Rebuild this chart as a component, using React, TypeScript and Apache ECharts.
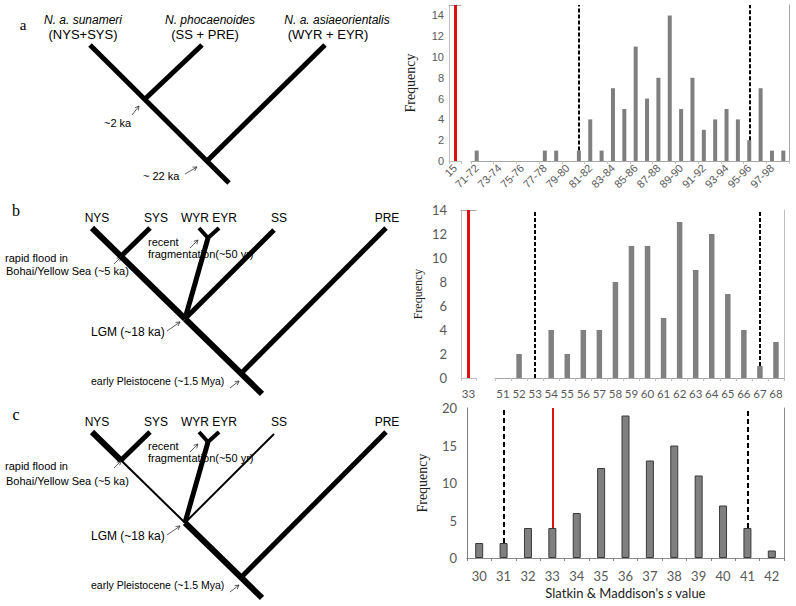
import React, { useEffect, useRef } from "react";
import * as echarts from "echarts";

// ---------- data ----------
const obsA = ["15"];
const catsA = [
  "71-72", "72-73", "73-74", "74-75", "75-76", "76-77", "77-78", "78-79", "79-80", "80-81",
  "81-82", "82-83", "83-84", "84-85", "85-86", "86-87", "87-88", "88-89", "89-90", "90-91",
  "91-92", "92-93", "93-94", "94-95", "95-96", "96-97", "97-98", "98-99",
];
const valsA = [1, 0, 0, 0, 0, 0, 1, 1, 0, 1, 4, 1, 7, 5, 11, 6, 8, 14, 5, 8, 3, 4, 5, 4, 2, 7, 1, 1];
const critA = ["80-81", "95-96"];
const yMaxA = 15;

const obsB = ["33"];
const catsB = ["51", "52", "53", "54", "55", "56", "57", "58", "59", "60", "61", "62", "63", "64", "65", "66", "67", "68"];
const valsB = [0, 2, 0, 4, 2, 4, 4, 8, 11, 11, 5, 13, 9, 12, 7, 4, 1, 3];
const critB = ["53", "67"];
const yMaxB = 14;

const catsC = ["30", "31", "32", "33", "34", "35", "36", "37", "38", "39", "40", "41", "42"];
const valsC = [2, 2, 4, 4, 6, 12, 19, 13, 15, 11, 7, 4, 1];
const critC = ["31", "41"];
const obsC = "33";
const yMaxC = 20;

// ---------- styles ----------
const SANS = "Liberation Sans, Arial, sans-serif";
const CAL = "Lato, Liberation Sans, sans-serif";
const SERIF = "Liberation Serif, Times New Roman, serif";
const GREY_TXT = "#595959";

function arrow(x1: number, y1: number, x2: number, y2: number) {
  const a = Math.atan2(y2 - y1, x2 - x1);
  const L = 4.5;
  const p1 = [x2 - L * Math.cos(a - 0.5), y2 - L * Math.sin(a - 0.5)];
  const p2 = [x2 - L * Math.cos(a + 0.5), y2 - L * Math.sin(a + 0.5)];
  return [
    { type: "line", silent: true, shape: { x1, y1, x2, y2 }, style: { stroke: "#333", lineWidth: 0.8 } },
    { type: "polyline", silent: true, shape: { points: [p1, [x2, y2], p2] }, style: { stroke: "#333", lineWidth: 0.8, fill: null } },
  ];
}
function seg(x1: number, y1: number, x2: number, y2: number, w: number) {
  return { type: "line", silent: true, z: 10, shape: { x1, y1, x2, y2 }, style: { stroke: "#000", lineWidth: w, lineCap: "butt" } };
}
function txt(x: number, y: number, text: string, size: number, opts: any = {}) {
  return {
    type: "text", silent: true, z: 5, x, y,
    style: { text, fontSize: size, fontFamily: SANS, fill: "#000", align: "left", verticalAlign: "middle", ...opts },
  };
}

function treeGraphics() {
  const g: any[] = [];
  // panel a
  g.push(txt(23, 25, "a", 15, { fontFamily: SERIF, align: "center" }));
  g.push(txt(83, 20, "N. a. sunameri", 12, { fontStyle: "italic", align: "center" }));
  g.push(txt(83, 34, "(NYS+SYS)", 13, { align: "center" }));
  g.push(txt(210, 20, "N. phocaenoides", 12, { fontStyle: "italic", align: "center" }));
  g.push(txt(205, 34, "(SS + PRE)", 13, { align: "center" }));
  g.push(txt(337, 20, "N. a. asiaeorientalis", 12, { fontStyle: "italic", align: "center" }));
  g.push(txt(328, 34, "(WYR + EYR)", 13, { align: "center" }));
  g.push(txt(104, 123, "~2 ka", 11));
  g.push(txt(143, 176, "~ 22 ka", 11));
  g.push(...arrow(132, 115, 139, 106));
  g.push(...arrow(185, 174, 197, 167));
  g.push(seg(90, 45, 229, 183, 5));
  g.push(seg(145, 99, 202, 45, 5));
  g.push(seg(207, 161, 325, 45, 5));

  // panel b & c share the topology
  const tree = (dy: number, thinParts: boolean, label: string) => {
    const y0 = 228 + dy;
    g.push(txt(16, 210 + dy, label, 16, { fontFamily: SERIF, align: "center" }));
    g.push(txt(97, 218 + dy, "NYS", 12, { align: "center" }));
    g.push(txt(156, 218 + dy, "SYS", 12, { align: "center" }));
    g.push(txt(209, 218 + dy, "WYR EYR", 12, { align: "center" }));
    g.push(txt(279, 218 + dy, "SS", 12, { align: "center" }));
    g.push(txt(387, 218 + dy, "PRE", 12, { align: "center" }));
    g.push(txt(5, 258 + dy * 1.02, "rapid flood in", 11));
    g.push(txt(6, 271 + dy * 1.03, "Bohai/Yellow Sea (~5 ka)", 11));
    g.push(txt(148, 242 + dy, "recent", 11));
    g.push(txt(148, 254 + dy, "fragmentation(~50 yr)", 11));
    g.push(txt(91, 332 + dy, "LGM (~18 ka)", 12));
    g.push(txt(91, 381 + dy, "early Pleistocene (~1.5 Mya)", 10.5));
    g.push(...arrow(114, 264 + dy, 121, 257 + dy));
    g.push(...arrow(190, 248 + dy, 198, 240 + dy));
    g.push(...arrow(167, 331 + dy, 180, 322 + dy));
    g.push(...arrow(230, 388 + dy, 239, 381 + dy));
    const k = 0.976;
    const yAt = (x: number) => y0 + (x - 92) * k;
    const thin = thinParts ? 2 : 6;
    const thinSS = thinParts ? 2 : 5;
    g.push(seg(92, y0, 121, yAt(121), 6));
    g.push(seg(121, yAt(121), 185, yAt(185), thin));
    g.push(seg(185, yAt(185), 262, yAt(262), 6));
    g.push(seg(121, yAt(121), 150, y0, 5));
    g.push(seg(185, yAt(185), 208, y0 + 10, 5));
    g.push(seg(208, y0 + 10, 199, y0, 4));
    g.push(seg(208, y0 + 10, 219, y0, 4));
    g.push(seg(185, yAt(185), 274, y0 + 2, thinSS));
    g.push(seg(241, yAt(241), 386, y0, 5));
  };
  tree(0, false, "b");
  tree(204, true, "c");
  return g;
}

function dashed(cats: string[], vals: number[], crit: string[], max: number) {
  return crit.map((c) => [
    { coord: [c, vals[cats.indexOf(c)]] },
    { coord: [c, max] },
  ]);
}

export default function App() {
  const ref = useRef<HTMLDivElement>(null);
  useEffect(() => {
    if (!ref.current) return;
    const chart = echarts.init(ref.current, null, { renderer: "svg" });
    const axLine = (color: string) => ({ show: true, lineStyle: { color, width: 1 } });
    const lineOnlyX = (grid: number, color: string, data: string[]) => ({
      type: "category", gridIndex: grid, position: "top", data,
      axisLine: axLine(color), axisTick: { show: false }, axisLabel: { show: false }, splitLine: { show: false },
    });
    const lineOnlyY = (grid: number, color: string, max: number) => ({
      type: "value", gridIndex: grid, position: "right", min: 0, max,
      axisLine: axLine(color), axisTick: { show: false }, axisLabel: { show: false }, splitLine: { show: false },
    });
    const hiddenY = (grid: number, max: number) => ({ type: "value", gridIndex: grid, min: 0, max, show: false });
    const labelY = (grid: number, max: number, interval: number, font: string, size: number, color: string, gap: number, nameSize: number, margin: number) => ({
      type: "value", gridIndex: grid, min: 0, max, interval,
      axisLine: axLine(color), axisTick: { show: false }, splitLine: { show: false },
      axisLabel: { color: GREY_TXT, fontFamily: font, fontSize: size, margin },
      name: "Frequency", nameLocation: "middle", nameRotate: 90, nameGap: gap,
      nameTextStyle: { fontFamily: SERIF, fontSize: nameSize, color: "#222" },
    });
    const catX = (grid: number, data: string[], color: string, label: any) => ({
      type: "category", gridIndex: grid, data, position: "bottom",
      axisLine: axLine(color), axisTick: { show: true, length: 3, lineStyle: { color } },
      splitLine: { show: false }, axisLabel: label,
    });
    const labA = { rotate: 45, interval: 1, fontFamily: SANS, fontSize: 11, color: GREY_TXT, margin: 5 };
    const labB = { interval: 0, fontFamily: CAL, fontSize: 11.5, color: GREY_TXT, margin: 9 };
    const labC = { interval: 0, fontFamily: CAL, fontSize: 13, color: GREY_TXT, margin: 11 };
    const dashStyle = { color: "#000", width: 2, type: [4, 2] };
    const red = "#e01010";

    const option: any = {
      animation: false,
      textStyle: { fontFamily: SANS },
      grid: [
        { left: 449, top: 5, width: 12, height: 156 },
        { left: 471, top: 5, width: 318, height: 156 },
        { left: 461, top: 210, width: 15, height: 168 },
        { left: 495, top: 210, width: 289, height: 168 },
        { left: 467, top: 408, width: 317, height: 150 },
      ],
      xAxis: [
        catX(0, obsA, "#bfbfbf", labA),
        lineOnlyX(0, "#a6a6a6", obsA),
        catX(1, catsA, "#bfbfbf", labA),
        lineOnlyX(1, "#a6a6a6", catsA),
        catX(2, obsB, "#bfbfbf", labB),
        lineOnlyX(2, "#a6a6a6", obsB),
        catX(3, catsB, "#bfbfbf", labB),
        lineOnlyX(3, "#a6a6a6", catsB),
        {
          ...catX(4, catsC, "#7f7f7f", labC),
          name: "Slatkin & Maddison's {i|s} value",
          nameLocation: "middle",
          nameGap: 28,
          nameTextStyle: { fontFamily: CAL, fontSize: 13, color: "#222", rich: { i: { fontStyle: "italic", fontFamily: CAL, fontSize: 13, color: "#222" } } },
        },
        lineOnlyX(4, "#8c8c8c", catsC),
      ],
      yAxis: [
        labelY(0, yMaxA, 2, SANS, 11, "#bfbfbf", 32, 14, 5),
        hiddenY(1, yMaxA),
        lineOnlyY(1, "#a6a6a6", yMaxA),
        labelY(2, yMaxB, 2, CAL, 13, "#bfbfbf", 37, 12, 14),
        hiddenY(3, yMaxB),
        lineOnlyY(3, "#bfbfbf", yMaxB),
        labelY(4, yMaxC, 5, CAL, 13, "#7f7f7f", 38, 14, 10),
        lineOnlyY(4, "#8c8c8c", yMaxC),
      ],
      series: [
        {
          type: "bar", xAxisIndex: 0, yAxisIndex: 0, data: [0], itemStyle: { opacity: 0 }, silent: true,
          markLine: { silent: true, symbol: ["none", "none"], label: { show: false }, lineStyle: { color: red, width: 3, type: "solid" }, data: [{ xAxis: obsA[0] }] },
        },
        {
          type: "bar", xAxisIndex: 2, yAxisIndex: 1, data: valsA, barWidth: 4, itemStyle: { color: "#7f7f7f" },
          markLine: { silent: true, symbol: ["none", "none"], label: { show: false }, lineStyle: dashStyle, data: dashed(catsA, valsA, critA, yMaxA) },
        },
        {
          type: "bar", xAxisIndex: 4, yAxisIndex: 3, data: [0], itemStyle: { opacity: 0 }, silent: true,
          markLine: { silent: true, symbol: ["none", "none"], label: { show: false }, lineStyle: { color: red, width: 3, type: "solid" }, data: [{ xAxis: obsB[0] }] },
        },
        {
          type: "bar", xAxisIndex: 6, yAxisIndex: 4, data: valsB, barWidth: 5.5, itemStyle: { color: "#808080" },
          markLine: { silent: true, symbol: ["none", "none"], label: { show: false }, lineStyle: dashStyle, data: dashed(catsB, valsB, critB, yMaxB) },
        },
        {
          type: "bar", xAxisIndex: 8, yAxisIndex: 6, data: valsC, barWidth: 8,
          itemStyle: { color: "#7f7f7f", borderColor: "#3a3a3a", borderWidth: 1 },
          markLine: {
            silent: true, symbol: ["none", "none"], label: { show: false }, lineStyle: { ...dashStyle, type: [5, 3] },
            data: [
              ...dashed(catsC, valsC, critC, yMaxC),
              [
                { coord: [obsC, valsC[catsC.indexOf(obsC)]], lineStyle: { color: red, width: 2, type: "solid" } },
                { coord: [obsC, yMaxC] },
              ],
            ],
          },
        },
      ],
      graphic: treeGraphics(),
    };
    chart.setOption(option);
    return () => chart.dispose();
  }, []);
  return (
    <div
      ref={ref}
      style={{ position: "absolute", left: 0, top: 0, width: 796, height: 606, background: "#fff" }}
    />
  );
}
